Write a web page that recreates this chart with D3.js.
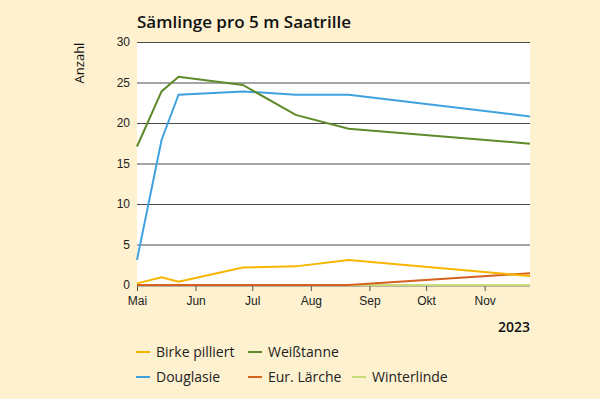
<!DOCTYPE html>
<html>
<head>
<meta charset="utf-8">
<script src="https://cdn.jsdelivr.net/npm/d3@7"></script>
<style>
  body { margin: 0; background: #fef1cf; }
  svg { display: block; font-family: "Open Sans", sans-serif; }
</style>
</head>
<body>
<script>
const dates = ["2023-05-01", "2023-05-14", "2023-05-23", "2023-06-26", "2023-07-24", "2023-08-21", "2023-11-25"];
const birke = [0.2, 0.95, 0.4, 2.15, 2.3, 3.1, 1.1];
const weisstanne = [17.1, 23.9, 25.7, 24.7, 21.0, 19.3, 17.45];
const douglasie = [3.1, 17.9, 23.5, 23.9, 23.5, 23.5, 20.8];
const laerche = [0, 0, 0, 0, 0, 0, 1.45];
const winterlinde = [0, 0, 0, 0, 0, 0, 0];
const yTicks = [0, 5, 10, 15, 20, 25, 30];
const monthNames = ["Mai", "Jun", "Jul", "Aug", "Sep", "Okt", "Nov"];

const width = 600;
const height = 399;
const margin = {top: 42, right: 70, bottom: 114, left: 137};

const parse = d3.timeParse("%Y-%m-%d");

const series = [
      {name: "Winterlinde", values: winterlinde, color: "#c8dc78"},
      {name: "Eur. Lärche", values: laerche, color: "#d4621e"},
      {name: "Birke pilliert", values: birke, color: "#f7b500"},
      {name: "Douglasie", values: douglasie, color: "#3fa2de"},
      {name: "Weißtanne", values: weisstanne, color: "#5e8a2a"}
];

const svg = d3.select("body")
      .append("svg")
      .attr("width", width)
      .attr("height", height);

const xScale = d3.scaleTime()
      .domain([parse("2023-05-01"), parse("2023-11-25")])
      .range([margin.left, width - margin.right]);

const yScale = d3.scaleLinear()
      .domain([0, 30])
      .range([height - margin.bottom, margin.top]);

// plot background
svg.append("rect")
      .attr("x", margin.left)
      .attr("y", margin.top)
      .attr("width", width - margin.left - margin.right)
      .attr("height", height - margin.top - margin.bottom)
      .attr("fill", "#ffffff");

// gridlines + y labels
const yAxis = d3.axisLeft(yScale)
      .tickValues(yTicks)
      .tickSize(-(width - margin.left - margin.right))
      .tickPadding(7);

svg.append("g")
      .attr("transform", `translate(${margin.left}, 0)`)
      .call(yAxis)
      .call(g => g.select(".domain").remove())
      .call(g => g.selectAll(".tick line").attr("stroke", "#4a4a4a").attr("stroke-width", 1))
      .call(g => g.selectAll(".tick text").attr("fill", "#222").style("font-size", "12px"));

// x axis
const monthTicks = d3.timeMonth.range(parse("2023-05-01"), parse("2023-11-02"));
const xAxis = d3.axisBottom(xScale)
      .tickValues(monthTicks)
      .tickFormat((d, i) => monthNames[i])
      .tickSize(5)
      .tickPadding(5);

svg.append("g")
      .attr("transform", `translate(0, ${height - margin.bottom + 1})`)
      .call(xAxis)
      .call(g => g.select(".domain").attr("stroke", "#777").attr("d", `M${margin.left},0H${width - margin.right}`))
      .call(g => g.selectAll(".tick line").attr("stroke", "#555"))
      .call(g => g.selectAll(".tick text").attr("fill", "#222").style("font-size", "12px"));

// lines
const line = d3.line()
      .x((d, i) => xScale(parse(dates[i])))
      .y(d => yScale(d));

svg.selectAll(".series")
      .data(series)
      .enter()
      .append("path")
      .attr("fill", "none")
      .attr("stroke", d => d.color)
      .attr("stroke-width", 2)
      .attr("d", d => line(d.values));

// title and labels
svg.append("text")
      .attr("x", 137)
      .attr("y", 28)
      .attr("fill", "#111")
      .style("font-size", "17px")
      .style("font-weight", "600")
      .text("Sämlinge pro 5 m Saatrille");

svg.append("text")
      .attr("transform", "translate(84, 63) rotate(-90)")
      .attr("text-anchor", "middle")
      .attr("fill", "#111")
      .style("font-size", "13px")
      .text("Anzahl");

svg.append("text")
      .attr("x", width - margin.right)
      .attr("y", 332)
      .attr("text-anchor", "end")
      .attr("fill", "#111")
      .style("font-size", "14px")
      .style("font-weight", "600")
      .text("2023");

// legend
const legendItems = [
      {name: "Birke pilliert", color: "#f7b500", x: 136, y: 352},
      {name: "Weißtanne", color: "#5e8a2a", x: 248, y: 352},
      {name: "Douglasie", color: "#3fa2de", x: 136, y: 377},
      {name: "Eur. Lärche", color: "#d4621e", x: 248, y: 377},
      {name: "Winterlinde", color: "#c8dc78", x: 352, y: 377}
];

const legend = svg.selectAll(".legend")
      .data(legendItems)
      .enter()
      .append("g")
      .attr("transform", d => `translate(${d.x}, ${d.y})`);

legend.append("line")
      .attr("x1", 0)
      .attr("x2", 14)
      .attr("stroke", d => d.color)
      .attr("stroke-width", 2);

legend.append("text")
      .attr("x", 20)
      .attr("dy", "0.35em")
      .attr("fill", "#222")
      .style("font-size", "14px")
      .text(d => d.name);
</script>
</body>
</html>
